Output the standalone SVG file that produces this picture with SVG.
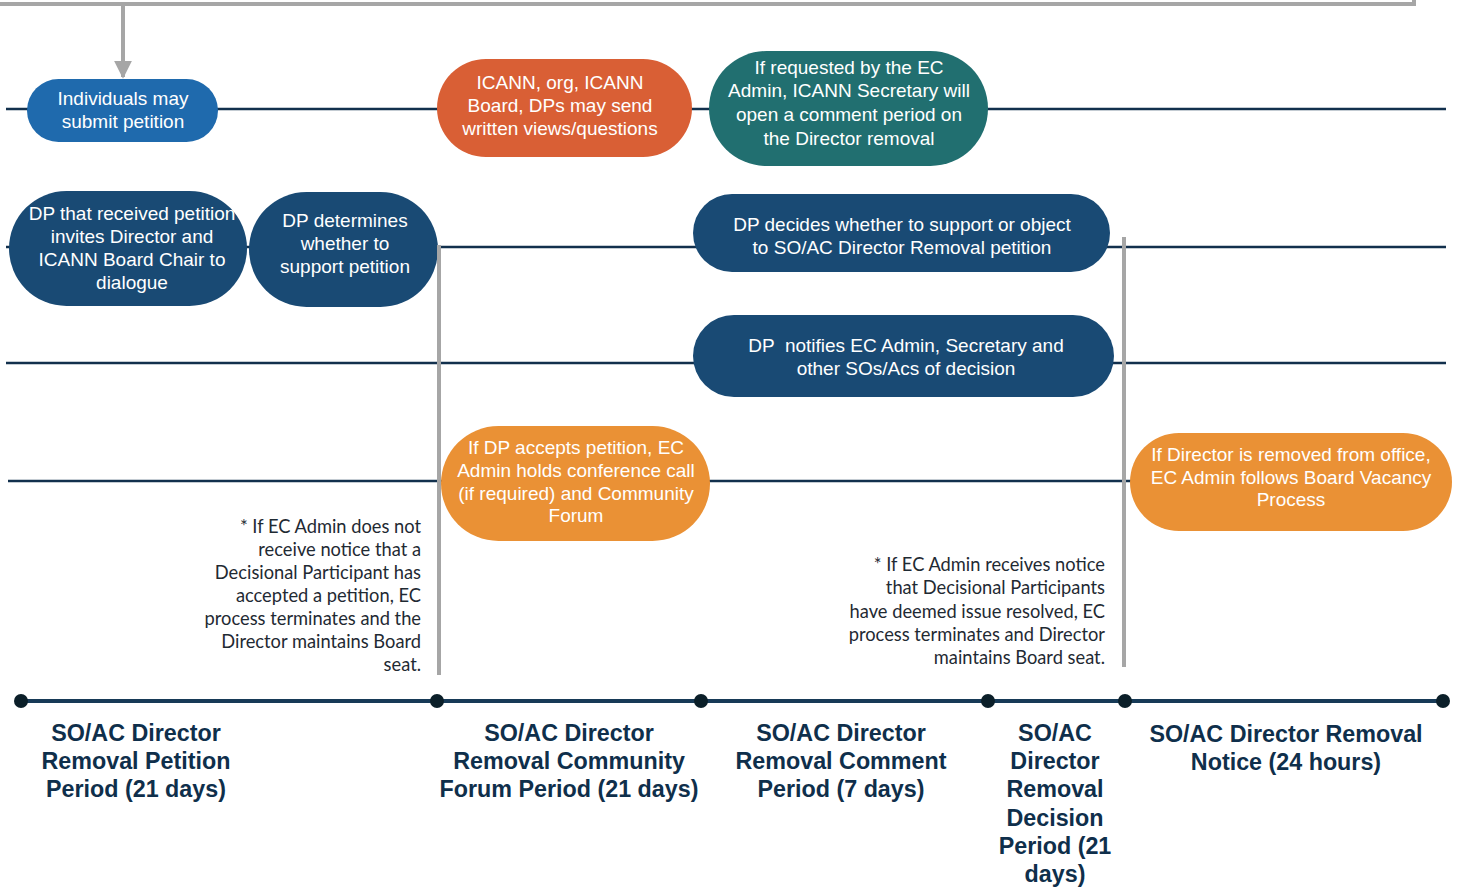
<svg xmlns="http://www.w3.org/2000/svg" width="1460" height="888" viewBox="0 0 1460 888">
<style>
.lane{stroke:#12304d;stroke-width:2.5;fill:none}
.gray{stroke:#a6a6a6;stroke-width:4;fill:none}
.nt{font-family:"Liberation Sans",Arial,sans-serif;font-size:19px;fill:#ffffff;text-anchor:middle}
.note{font-family:Lato,"Noto Sans",sans-serif;font-size:18.3px;fill:#1f2a33;text-anchor:end}
.lbl{font-family:"Liberation Sans",Arial,sans-serif;font-size:23.3px;font-weight:bold;fill:#0f2f4b;text-anchor:middle}
.blue{fill:#1f6aad}
.navy{fill:#194a74}
.red{fill:#d95f35}
.teal{fill:#216f70}
.orange{fill:#ea9135}
.dot{fill:#0b1f29}
</style>
<defs>
<marker id="arr" viewBox="0 0 10 10" refX="9" refY="5" markerWidth="4.5" markerHeight="4.5" orient="auto" markerUnits="strokeWidth">
<path d="M0,0 L10,5 L0,10 z" fill="#a6a6a6"/>
</marker>
</defs>
<g id="connectors">
<polyline class="gray" points="0,4 1414,4 1414,0"/>
<line class="gray" x1="123" y1="4" x2="123" y2="77" marker-end="url(#arr)"/>
<line class="lane" x1="6" y1="109" x2="1446" y2="109"/>
<line class="lane" x1="6" y1="247" x2="1446" y2="247"/>
<line class="lane" x1="6" y1="363" x2="1446" y2="363"/>
<line class="lane" x1="8" y1="481" x2="1446" y2="481"/>
<line x1="21" y1="701" x2="1443" y2="701" stroke="#173a57" stroke-width="4"/>
</g>
<g id="n-individuals"><rect class="blue" x="27" y="79" width="191" height="63" rx="31.5"/>
<text class="nt" x="123" y="105">Individuals may</text><text class="nt" x="123" y="128">submit petition</text></g>
<g id="n-icann"><rect class="red" x="437" y="59" width="255" height="98" rx="49"/>
<text class="nt" x="560" y="89">ICANN, org, ICANN</text><text class="nt" x="560" y="112">Board, DPs may send</text><text class="nt" x="560" y="135">written views/questions</text></g>
<g id="n-secretary"><rect class="teal" x="709" y="51" width="279" height="115" rx="57.5"/>
<text class="nt" x="849" y="74">If requested by the EC</text><text class="nt" x="849" y="97">Admin, ICANN Secretary will</text><text class="nt" x="849" y="121">open a comment period on</text><text class="nt" x="849" y="145">the Director removal</text></g>
<g id="n-dialogue"><rect class="navy" x="9" y="191" width="238" height="115" rx="57.5"/>
<text class="nt" x="132" y="220">DP that received petition</text><text class="nt" x="132" y="243">invites Director and</text><text class="nt" x="132" y="266">ICANN Board Chair to</text><text class="nt" x="132" y="289">dialogue</text></g>
<g id="n-determines"><rect class="navy" x="249" y="192" width="189" height="115" rx="57.5"/>
<text class="nt" x="345" y="227">DP determines</text><text class="nt" x="345" y="250">whether to</text><text class="nt" x="345" y="273">support petition</text></g>
<g id="n-decides"><rect class="navy" x="693" y="194" width="417" height="78" rx="39"/>
<text class="nt" x="902" y="231">DP decides whether to support or object</text><text class="nt" x="902" y="254">to SO/AC Director Removal petition</text></g>
<g id="n-notifies"><rect class="navy" x="693" y="315" width="421" height="82" rx="41"/>
<text class="nt" x="906" y="352" xml:space="preserve">DP  notifies EC Admin, Secretary and</text><text class="nt" x="906" y="375">other SOs/Acs of decision</text></g>
<g id="n-forum"><rect class="orange" x="441" y="426" width="269" height="115" rx="57.5"/>
<text class="nt" x="576" y="454">If DP accepts petition, EC</text><text class="nt" x="576" y="477">Admin holds conference call</text><text class="nt" x="576" y="500">(if required) and Community</text><text class="nt" x="576" y="522">Forum</text></g>
<g id="n-vacancy"><rect class="orange" x="1130" y="433" width="322" height="98" rx="49"/>
<text class="nt" x="1291" y="461">If Director is removed from office,</text><text class="nt" x="1291" y="484">EC Admin follows Board Vacancy</text><text class="nt" x="1291" y="506">Process</text></g>
<g id="dividers">
<line class="gray" x1="439" y1="245" x2="439" y2="675"/>
<line class="gray" x1="1124" y1="237" x2="1124" y2="667"/>
</g>
<g id="note1">
<text class="note" x="421" y="533">* If EC Admin does not</text>
<text class="note" x="421" y="556">receive notice that a</text>
<text class="note" x="421" y="579">Decisional Participant has</text>
<text class="note" x="421" y="602">accepted a petition, EC</text>
<text class="note" x="421" y="625">process terminates and the</text>
<text class="note" x="421" y="648">Director maintains Board</text>
<text class="note" x="421" y="671">seat.</text>
</g>
<g id="note2">
<text class="note" x="1105" y="571">* If EC Admin receives notice</text>
<text class="note" x="1105" y="594">that Decisional Participants</text>
<text class="note" x="1105" y="618">have deemed issue resolved, EC</text>
<text class="note" x="1105" y="641">process terminates and Director</text>
<text class="note" x="1105" y="664">maintains Board seat.</text>
</g>
<g id="timeline-dots">
<circle class="dot" cx="21" cy="701" r="7"/>
<circle class="dot" cx="437" cy="701" r="7"/>
<circle class="dot" cx="701" cy="701" r="7"/>
<circle class="dot" cx="988" cy="701" r="7"/>
<circle class="dot" cx="1125" cy="701" r="7"/>
<circle class="dot" cx="1443" cy="701" r="7"/>
</g>
<g id="p-petition"><text class="lbl" x="136" y="741">SO/AC Director</text><text class="lbl" x="136" y="769">Removal Petition</text><text class="lbl" x="136" y="797">Period (21 days)</text></g>
<g id="p-forum"><text class="lbl" x="569" y="741">SO/AC Director</text><text class="lbl" x="569" y="769">Removal Community</text><text class="lbl" x="569" y="797">Forum Period (21 days)</text></g>
<g id="p-comment"><text class="lbl" x="841" y="741">SO/AC Director</text><text class="lbl" x="841" y="769">Removal Comment</text><text class="lbl" x="841" y="797">Period (7 days)</text></g>
<g id="p-decision"><text class="lbl" x="1055" y="741">SO/AC</text><text class="lbl" x="1055" y="769">Director</text><text class="lbl" x="1055" y="797">Removal</text><text class="lbl" x="1055" y="826">Decision</text><text class="lbl" x="1055" y="854">Period (21</text><text class="lbl" x="1055" y="882">days)</text></g>
<g id="p-notice"><text class="lbl" x="1286" y="742">SO/AC Director Removal</text><text class="lbl" x="1286" y="770">Notice (24 hours)</text></g>
</svg>
